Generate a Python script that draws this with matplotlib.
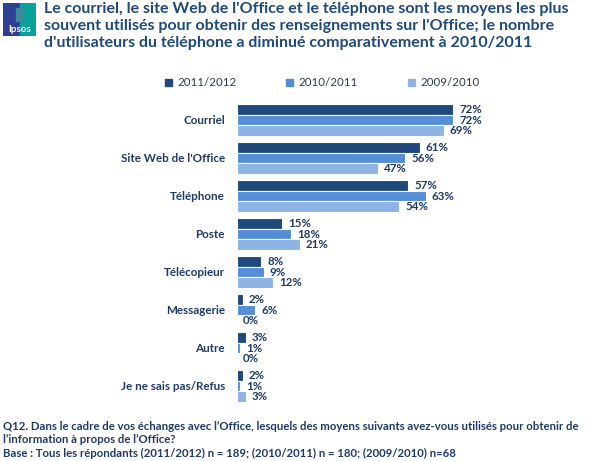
import matplotlib.pyplot as plt
from matplotlib.patches import Rectangle

# data
categories = ['Courriel', "Site Web de l'Office", 'Téléphone', 'Poste',
              'Télécopieur', 'Messagerie', 'Autre', 'Je ne sais pas/Refus']
y2012 = [72, 61, 57, 15, 8, 2, 3, 2]
y2011 = [72, 56, 63, 18, 9, 6, 1, 1]
y2010 = [69, 47, 54, 21, 12, 0, 0, 3]
series_names = ['2011/2012', '2010/2011', '2009/2010']

colors = ['#1f497d', '#558ed5', '#8db4e2']
navy = '#1f3b66'

W, H = 590, 461
plt.rcParams['font.family'] = ['Lato', 'DejaVu Sans']

fig = plt.figure(figsize=(W / 100, H / 100), dpi=100)

def px(x, y):
    return x / W, 1 - y / H

# chart area: zero at x=237, 3 px per percent, 38 px between groups
left, top, bottom = 237, 100, 405
ax = fig.add_axes([left / W, 1 - bottom / H, (W - left) / W, (bottom - top) / H])
ax.set_xlim(0, (W - left) / 3)
ax.set_ylim(7.5, -20 / 38)
ax.axis('off')

h = 0.272
for k, vals in enumerate([y2012, y2011, y2010]):
    off = (k - 1) * h
    for i, v in enumerate(vals):
        if v > 0:
            ax.barh(i + off, v, height=h, color=colors[k], edgecolor='white', linewidth=0.8)
        ax.text(v + 2, i + off, f'{v}%', va='center', ha='left', fontsize=8.3,
                fontweight='bold', color=navy)

for i, c in enumerate(categories):
    x, y = px(225, 120 + 38 * i)
    fig.text(x, y, c, ha='right', va='center', fontsize=8.4, fontweight='bold', color=navy)

# legend
for name, col, lx in zip(series_names, colors, [168, 289, 411]):
    x, y = px(lx, 83)
    fig.patches.append(Rectangle((x - 3 / W, y - 3.5 / H), 7 / W, 7 / H,
                                 transform=fig.transFigure, color=col))
    fig.text(x + 9 / W, y, name, ha='left', va='center', fontsize=8.3, color='#2d3b4f')

# title
title = ("Le courriel, le site Web de l'Office et le téléphone sont les moyens les plus\n"
         "souvent utilisés pour obtenir des renseignements sur l'Office; le nombre\n"
         "d'utilisateurs du téléphone a diminué comparativement à 2010/2011")
x, y = px(44, 2)
fig.text(x, y, title, ha='left', va='top', fontsize=11.5, fontweight='bold',
         color='#1f4a7a', linespacing=1.28)

# footer
foot = ("Q12. Dans le cadre de vos échanges avec l’Office, lesquels des moyens suivants avez-vous utilisés pour obtenir de\n"
        "l’information à propos de l’Office?\n"
        "Base : Tous les répondants (2011/2012) n = 189; (2010/2011) n = 180; (2009/2010) n=68")
x, y = px(3, 421)
fig.text(x, y, foot, ha='left', va='top', fontsize=8.2, fontweight='bold',
         color=navy, linespacing=1.25)

# Ipsos logo
lg = fig.add_axes([3 / W, 1 - 36 / H, 33 / W, 33 / H])
lg.set_xlim(0, 1)
lg.set_ylim(0, 1)
lg.axis('off')
lg.add_patch(Rectangle((0, 0), 0.5, 1, color='#2f3f93'))
lg.add_patch(Rectangle((0.5, 0), 0.5, 1, color='#0aa19b'))
lg.add_patch(Rectangle((0.38, 0.45), 0.22, 0.4, color='#3d8a9a'))
lg.text(0.5, 0.2, 'Ipsos', ha='center', va='center', color='white', fontsize=7,
        fontweight='bold')

fig.savefig('out.png', dpi=100)
